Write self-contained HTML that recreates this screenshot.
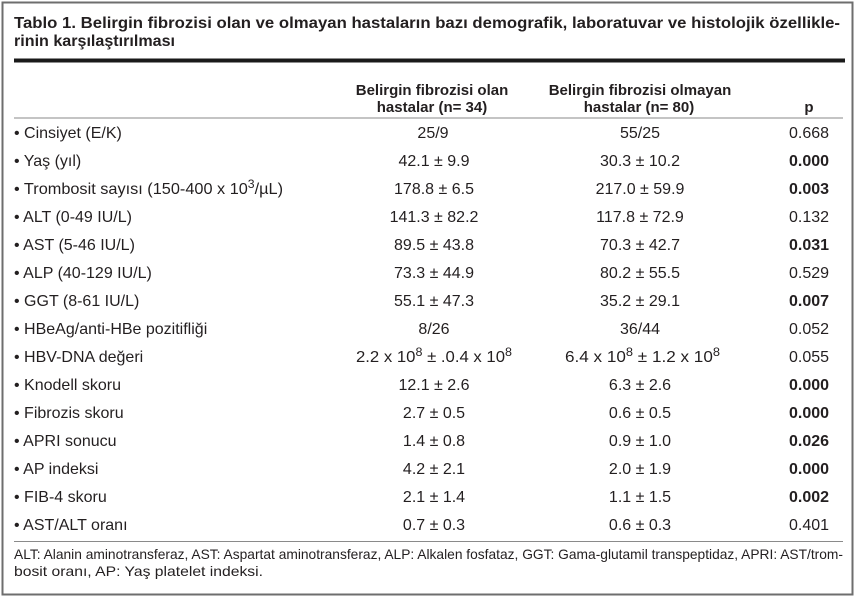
<!DOCTYPE html>
<html>
<head>
<meta charset="utf-8">
<style>
  html, body { margin:0; padding:0; background:#fff; }
  body { width:856px; height:599px; overflow:hidden; }
  svg { display:block; }
  text { font-family: "Liberation Sans", "DejaVu Sans", sans-serif; fill:#231f20; }
  .b { font-weight:bold; }
  .v { font-size:16px; text-anchor:middle; }
  .l { font-size:16px; }
</style>
</head>
<body>
<svg width="856" height="599" viewBox="0 0 856 599" xmlns="http://www.w3.org/2000/svg">
  <rect x="0" y="0" width="856" height="599" fill="#fff"/>
  <rect x="2.5" y="2.5" width="850" height="592" fill="none" stroke="#6e6e6e" stroke-width="2"/>

  <!-- Title -->
  <text class="b" x="14" y="28" font-size="16" textLength="826" lengthAdjust="spacingAndGlyphs">Tablo 1. Belirgin fibrozisi olan ve olmayan hastaların bazı demografik, laboratuvar ve histolojik özellikle-</text>
  <text class="b" x="14" y="46" font-size="16" textLength="161" lengthAdjust="spacingAndGlyphs">rinin karşılaştırılması</text>

  <!-- Thick rule -->
  <rect x="14" y="58.5" width="831" height="4" fill="#1a1a1a"/>

  <!-- Header -->
  <text class="b" x="432" y="95" font-size="15" text-anchor="middle">Belirgin fibrozisi olan</text>
  <text class="b" x="432" y="112" font-size="15" text-anchor="middle">hastalar (n= 34)</text>
  <text class="b" x="640" y="95" font-size="15" text-anchor="middle">Belirgin fibrozisi olmayan</text>
  <text class="b" x="639" y="112" font-size="15" text-anchor="middle">hastalar (n= 80)</text>
  <text class="b" x="809" y="112" font-size="15" text-anchor="middle">p</text>

  <rect x="14" y="117.5" width="829" height="1" fill="#8a8a8a"/>

  <!-- Rows -->
  <g>
    <text class="l" x="14" y="138">• Cinsiyet (E/K)</text>
    <text class="v" x="433" y="138">25/9</text>
    <text class="v" x="640" y="138">55/25</text>
    <text class="v" x="809" y="138">0.668</text>

    <text class="l" x="14" y="166">• Yaş (yıl)</text>
    <text class="v" x="434" y="166">42.1 ± 9.9</text>
    <text class="v" x="640" y="166">30.3 ± 10.2</text>
    <text class="v b" x="809" y="166">0.000</text>

    <text class="l" x="14" y="194" textLength="269" lengthAdjust="spacingAndGlyphs">• Trombosit sayısı (150-400 x 10<tspan font-size="12" dy="-6">3</tspan><tspan dy="6">/µL)</tspan></text>
    <text class="v" x="434" y="194">178.8 ± 6.5</text>
    <text class="v" x="640" y="194">217.0 ± 59.9</text>
    <text class="v b" x="809" y="194">0.003</text>

    <text class="l" x="14" y="222">• ALT (0-49 IU/L)</text>
    <text class="v" x="434" y="222">141.3 ± 82.2</text>
    <text class="v" x="640" y="222">117.8 ± 72.9</text>
    <text class="v" x="809" y="222">0.132</text>

    <text class="l" x="14" y="250">• AST (5-46 IU/L)</text>
    <text class="v" x="434" y="250">89.5 ± 43.8</text>
    <text class="v" x="640" y="250">70.3 ± 42.7</text>
    <text class="v b" x="809" y="250">0.031</text>

    <text class="l" x="14" y="278">• ALP (40-129 IU/L)</text>
    <text class="v" x="434" y="278">73.3 ± 44.9</text>
    <text class="v" x="640" y="278">80.2 ± 55.5</text>
    <text class="v" x="809" y="278">0.529</text>

    <text class="l" x="14" y="306">• GGT (8-61 IU/L)</text>
    <text class="v" x="434" y="306">55.1 ± 47.3</text>
    <text class="v" x="640" y="306">35.2 ± 29.1</text>
    <text class="v b" x="809" y="306">0.007</text>

    <text class="l" x="14" y="334">• HBeAg/anti-HBe pozitifliği</text>
    <text class="v" x="434" y="334">8/26</text>
    <text class="v" x="640" y="334">36/44</text>
    <text class="v" x="809" y="334">0.052</text>

    <text class="l" x="14" y="362">• HBV-DNA değeri</text>
    <text x="356" y="362" font-size="16" textLength="156" lengthAdjust="spacingAndGlyphs">2.2 x 10<tspan font-size="12" dy="-6">8</tspan><tspan dy="6"> ± .0.4 x 10</tspan><tspan font-size="12" dy="-6">8</tspan></text>
    <text x="565" y="362" font-size="16" textLength="155" lengthAdjust="spacingAndGlyphs">6.4 x 10<tspan font-size="12" dy="-6">8</tspan><tspan dy="6"> ± 1.2 x 10</tspan><tspan font-size="12" dy="-6">8</tspan></text>
    <text class="v" x="809" y="362">0.055</text>

    <text class="l" x="14" y="390">• Knodell skoru</text>
    <text class="v" x="434" y="390">12.1 ± 2.6</text>
    <text class="v" x="640" y="390">6.3 ± 2.6</text>
    <text class="v b" x="809" y="390">0.000</text>

    <text class="l" x="14" y="418">• Fibrozis skoru</text>
    <text class="v" x="434" y="418">2.7 ± 0.5</text>
    <text class="v" x="640" y="418">0.6 ± 0.5</text>
    <text class="v b" x="809" y="418">0.000</text>

    <text class="l" x="14" y="446">• APRI sonucu</text>
    <text class="v" x="434" y="446">1.4 ± 0.8</text>
    <text class="v" x="640" y="446">0.9 ± 1.0</text>
    <text class="v b" x="809" y="446">0.026</text>

    <text class="l" x="14" y="474">• AP indeksi</text>
    <text class="v" x="434" y="474">4.2 ± 2.1</text>
    <text class="v" x="640" y="474">2.0 ± 1.9</text>
    <text class="v b" x="809" y="474">0.000</text>

    <text class="l" x="14" y="502">• FIB-4 skoru</text>
    <text class="v" x="434" y="502">2.1 ± 1.4</text>
    <text class="v" x="640" y="502">1.1 ± 1.5</text>
    <text class="v b" x="809" y="502">0.002</text>

    <text class="l" x="14" y="530">• AST/ALT oranı</text>
    <text class="v" x="434" y="530">0.7 ± 0.3</text>
    <text class="v" x="640" y="530">0.6 ± 0.3</text>
    <text class="v" x="809" y="530">0.401</text>
  </g>

  <rect x="14" y="541" width="829" height="1" fill="#8a8a8a"/>

  <!-- Footnote -->
  <text x="14" y="559" font-size="14" textLength="829" lengthAdjust="spacingAndGlyphs">ALT: Alanin aminotransferaz, AST: Aspartat aminotransferaz, ALP: Alkalen fosfataz, GGT: Gama-glutamil transpeptidaz, APRI: AST/trom-</text>
  <text x="14" y="576" font-size="14" textLength="249" lengthAdjust="spacingAndGlyphs">bosit oranı, AP: Yaş platelet indeksi.</text>
</svg>
</body>
</html>
